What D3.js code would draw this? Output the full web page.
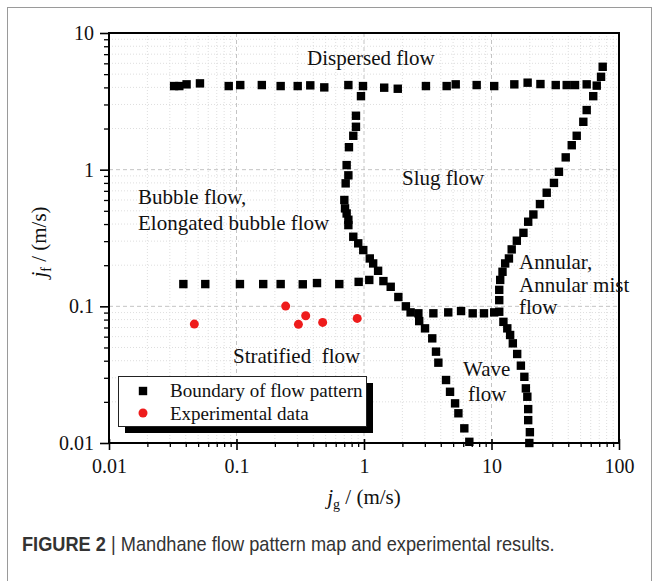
<!DOCTYPE html>
<html>
<head>
<meta charset="utf-8">
<script src="https://cdn.jsdelivr.net/npm/d3@7"></script>
<style>
  html, body { margin: 0; padding: 0; background: #fff; }
  svg { display: block; }
</style>
</head>
<body>
<script>
// ---- Axis ticks ----
const xTickValues = [0.01, 0.1, 1, 10, 100];
const xTickLabels = ["0.01", "0.1", "1", "10", "100"];
const yTickValues = [0.01, 0.1, 1, 10];
const yTickLabels = ["0.01", "0.1", "1", "10"];

// ---- Mandhane map boundaries: [j_g, j_f] in m/s ----
const dispersedBoundary = [
  [0.0324, 4.09], [0.0356, 4.09], [0.0406, 4.21], [0.0517, 4.28], [0.0869, 4.09],
  [0.107, 4.16], [0.158, 4.16], [0.222, 4.09], [0.302, 4.09], [0.379, 4.14],
  [0.488, 4.0], [0.754, 4.16], [0.982, 4.09], [1.44, 3.98], [1.84, 3.91],
  [3.06, 4.09], [4.45, 4.09], [5.24, 4.21], [7.65, 4.16], [10.5, 4.09],
  [15.1, 4.21], [19.2, 4.33], [24.2, 4.23], [31.9, 4.16], [38.9, 4.16],
  [45.2, 4.16], [55.8, 4.21], [66.9, 4.12], [72.3, 4.78], [74.5, 5.66]
];
const bubbleSlugBoundary = [
  [0.947, 3.45], [0.865, 2.48], [0.865, 2.06], [0.824, 1.77], [0.762, 1.46],
  [0.731, 1.08], [0.754, 0.909], [0.718, 0.794], [0.701, 0.600], [0.710, 0.521],
  [0.731, 0.478], [0.754, 0.43], [0.754, 0.393], [0.824, 0.323], [0.901, 0.289],
  [0.987, 0.258], [1.11, 0.224], [1.18, 0.206], [1.29, 0.182], [1.42, 0.153]
];
const bubbleStratifiedBoundary = [
  [0.0383, 0.1455], [0.0569, 0.1455], [0.1064, 0.1455], [0.162, 0.1455], [0.222, 0.1455],
  [0.331, 0.145], [0.428, 0.148], [0.640, 0.1455], [0.908, 0.151], [1.10, 0.156]
];
const slugStratifiedBoundary = [
  [1.62, 0.139], [1.86, 0.117], [2.13, 0.100], [2.32, 0.0903], [2.67, 0.0889],
  [2.71, 0.078], [3.01, 0.069], [3.43, 0.0583], [3.67, 0.0466], [3.83, 0.0387],
  [4.40, 0.0289], [4.73, 0.0237], [5.18, 0.0195], [5.50, 0.0165], [6.12, 0.0128],
  [6.70, 0.0102]
];
const slugWaveBoundary = [
  [3.50, 0.0889], [4.58, 0.0903], [5.77, 0.0924], [7.12, 0.0889], [8.73, 0.0889],
  [10.5, 0.0903]
];
const annularBoundary = [
  [62.8, 3.45], [55.8, 2.73], [52.5, 2.24], [46.6, 1.77], [42.6, 1.51],
  [38.2, 1.23], [33.8, 0.965], [30.9, 0.80], [27.1, 0.678], [24.0, 0.56],
  [21.3, 0.47], [19.4, 0.416], [17.8, 0.345], [15.8, 0.302], [14.4, 0.261],
  [13.7, 0.224], [12.8, 0.206], [12.2, 0.179], [11.7, 0.156], [11.5, 0.132],
  [11.5, 0.111], [11.5, 0.0913]
];
const waveAnnularBoundary = [
  [12.4, 0.077], [13.3, 0.069], [14.0, 0.0617], [14.7, 0.0536], [15.9, 0.0448],
  [17.0, 0.0368], [18.1, 0.0305], [18.6, 0.0251], [19.1, 0.0218], [19.4, 0.0177],
  [19.4, 0.0147], [20.0, 0.0120], [19.8, 0.0100]
];

// ---- Experimental operating points ----
const experimentalPoints = [
  [0.0467, 0.0741], [0.243, 0.1004], [0.349, 0.0853], [0.306, 0.0738],
  [0.474, 0.0763], [0.885, 0.0816]
];

// ---- Text ----
const seriesNames = ["Boundary of flow pattern", "Experimental data"];
const regionNames = ["Dispersed flow", "Slug flow", "Bubble flow,", "Elongated bubble flow",
  "Stratified\u00a0 flow", "Annular,", "Annular mist", "flow", "Wave", "flow"];
const captionBold = "FIGURE 2";
const captionText = "Mandhane flow pattern map and experimental results.";

// ---- Drawing ----
const W = 659, H = 581;
const serif = "'Liberation Serif', 'Times New Roman', Times, serif";
const svg = d3.select("body").append("svg").attr("width", W).attr("height", H);
svg.append("rect").attr("width", W).attr("height", H).attr("fill", "#fff");

// figure frame
svg.append("rect").attr("x", 7.5).attr("y", 7.5).attr("width", 644).attr("height", 620)
  .attr("fill", "none").attr("stroke", "#9a9a9a").attr("stroke-width", 1);

const plot = { left: 109, right: 619, top: 33, bottom: 443 };
const x = d3.scaleLog().domain([0.01, 100]).range([plot.left, plot.right]);
const y = d3.scaleLog().domain([0.01, 10]).range([plot.bottom, plot.top]);

const minorOf = (majors) => {
  const out = [];
  majors.slice(0, -1).forEach(m => { for (let k = 2; k <= 9; k++) out.push(+(m * k).toPrecision(3)); });
  return out;
};
const xMinor = minorOf(xTickValues);
const yMinor = minorOf(yTickValues);

// grid
const grid = svg.append("g");
grid.selectAll(".gxm").data(xMinor).join("line")
  .attr("x1", d => x(d)).attr("x2", d => x(d)).attr("y1", plot.top).attr("y2", plot.bottom)
  .attr("stroke", "#dedede").attr("stroke-width", 1).attr("stroke-dasharray", "1,2");
grid.selectAll(".gym").data(yMinor).join("line")
  .attr("y1", d => y(d)).attr("y2", d => y(d)).attr("x1", plot.left).attr("x2", plot.right)
  .attr("stroke", "#dedede").attr("stroke-width", 1).attr("stroke-dasharray", "1,2");
grid.selectAll(".gx").data(xTickValues.slice(1, -1)).join("line")
  .attr("x1", d => x(d)).attr("x2", d => x(d)).attr("y1", plot.top).attr("y2", plot.bottom)
  .attr("stroke", "#c4c4c4").attr("stroke-width", 1).attr("stroke-dasharray", "4,3");
grid.selectAll(".gy").data(yTickValues.slice(1, -1)).join("line")
  .attr("y1", d => y(d)).attr("y2", d => y(d)).attr("x1", plot.left).attr("x2", plot.right)
  .attr("stroke", "#c4c4c4").attr("stroke-width", 1).attr("stroke-dasharray", "4,3");

// axes
const xAxis = d3.axisBottom(x).tickValues(xTickValues)
  .tickFormat((d, i) => xTickLabels[i]).tickSize(7).tickPadding(9).tickSizeOuter(0);
const gx = svg.append("g").attr("transform", `translate(0,${plot.bottom})`).call(xAxis);
gx.select(".domain").remove();
gx.selectAll(".tick line").attr("y1", -4).attr("stroke", "#000").attr("stroke-width", 1.6);
gx.selectAll(".tick text").attr("font-family", serif).attr("font-size", 20).attr("fill", "#111");
const xAxisMinor = d3.axisBottom(x).tickValues(xMinor).tickFormat("").tickSize(4).tickSizeOuter(0);
const gxm = svg.append("g").attr("transform", `translate(0,${plot.bottom})`).call(xAxisMinor);
gxm.select(".domain").remove();
gxm.selectAll(".tick line").attr("stroke", "#000").attr("stroke-width", 1.3);

const yAxis = d3.axisLeft(y).tickValues(yTickValues)
  .tickFormat((d, i) => yTickLabels[i]).tickSize(9).tickPadding(6).tickSizeOuter(0);
const gy = svg.append("g").attr("transform", `translate(${plot.left},0)`).call(yAxis);
gy.select(".domain").remove();
gy.selectAll(".tick line").attr("stroke", "#000").attr("stroke-width", 1.6);
gy.selectAll(".tick text").attr("font-family", serif).attr("font-size", 20).attr("fill", "#111");
const yAxisMinor = d3.axisLeft(y).tickValues(yMinor).tickFormat("").tickSize(5).tickSizeOuter(0);
const gym = svg.append("g").attr("transform", `translate(${plot.left},0)`).call(yAxisMinor);
gym.select(".domain").remove();
gym.selectAll(".tick line").attr("stroke", "#000").attr("stroke-width", 1.3);

// plot frame
svg.append("rect").attr("x", plot.left).attr("y", plot.top)
  .attr("width", plot.right - plot.left).attr("height", plot.bottom - plot.top)
  .attr("fill", "none").attr("stroke", "#000").attr("stroke-width", 2);

// boundary squares
const boundaries = [dispersedBoundary, bubbleSlugBoundary, bubbleStratifiedBoundary,
  slugStratifiedBoundary, slugWaveBoundary, annularBoundary, waveAnnularBoundary];
const sq = 8.4;
const gB = svg.append("g");
boundaries.forEach(arr => {
  gB.append("g").selectAll("rect").data(arr).join("rect")
    .attr("x", d => x(d[0]) - sq / 2).attr("y", d => y(d[1]) - sq / 2)
    .attr("width", sq).attr("height", sq).attr("fill", "#000");
});

// experimental circles
svg.append("g").selectAll("circle").data(experimentalPoints).join("circle")
  .attr("cx", d => x(d[0])).attr("cy", d => y(d[1])).attr("r", 4.5).attr("fill", "#ee1c1c");

// region labels
const regionPos = [[307, 65], [402, 185], [138, 204], [138, 230], [233, 363],
  [519, 269], [519, 292], [519, 314], [463, 376], [468, 401]];
svg.append("g").selectAll("text").data(regionNames).join("text")
  .attr("x", (d, i) => regionPos[i][0]).attr("y", (d, i) => regionPos[i][1])
  .attr("font-family", serif).attr("font-size", 21).attr("fill", "#111")
  .text(d => d);

// legend
const lg = svg.append("g");
lg.append("rect").attr("x", 125).attr("y", 383).attr("width", 248).attr("height", 50).attr("fill", "#000");
lg.append("rect").attr("x", 118.5).attr("y", 376.5).attr("width", 248).attr("height", 50)
  .attr("fill", "#fff").attr("stroke", "#222").attr("stroke-width", 1);
lg.append("rect").attr("x", 143 - sq / 2).attr("y", 391 - sq / 2).attr("width", sq).attr("height", sq).attr("fill", "#000");
lg.append("circle").attr("cx", 143).attr("cy", 413).attr("r", 4.5).attr("fill", "#ee1c1c");
lg.selectAll("text").data(seriesNames).join("text")
  .attr("x", 170).attr("y", (d, i) => 397 + i * 23)
  .attr("font-family", serif).attr("font-size", 19).attr("fill", "#111").text(d => d);

// axis titles
function titleText(sel, sub) {
  sel.attr("font-family", serif).attr("font-size", 21).attr("fill", "#111");
  sel.append("tspan").attr("font-style", "italic").text("j");
  sel.append("tspan").attr("font-size", 14).attr("dy", 5).text(sub);
  sel.append("tspan").attr("dy", -5).text(" / (m/s)");
}
svg.append("text").attr("x", 364).attr("y", 504).attr("text-anchor", "middle").call(titleText, "g");
svg.append("g").attr("transform", "translate(46,242) rotate(-90)")
  .append("text").attr("text-anchor", "middle").call(titleText, "f");

// caption
const cap = svg.append("text").attr("font-family", "'Liberation Sans Narrow', 'Arial Narrow', 'Liberation Sans', sans-serif")
  .attr("font-size", 20).attr("fill", "#333");
cap.append("tspan").attr("font-weight", "bold").text(captionBold);
cap.append("tspan").text(" | ");
cap.append("tspan").text(captionText);
const capW = cap.node().getComputedTextLength();
cap.attr("transform", `translate(22,551) scale(${533 / capW},1)`);
</script>
</body>
</html>
